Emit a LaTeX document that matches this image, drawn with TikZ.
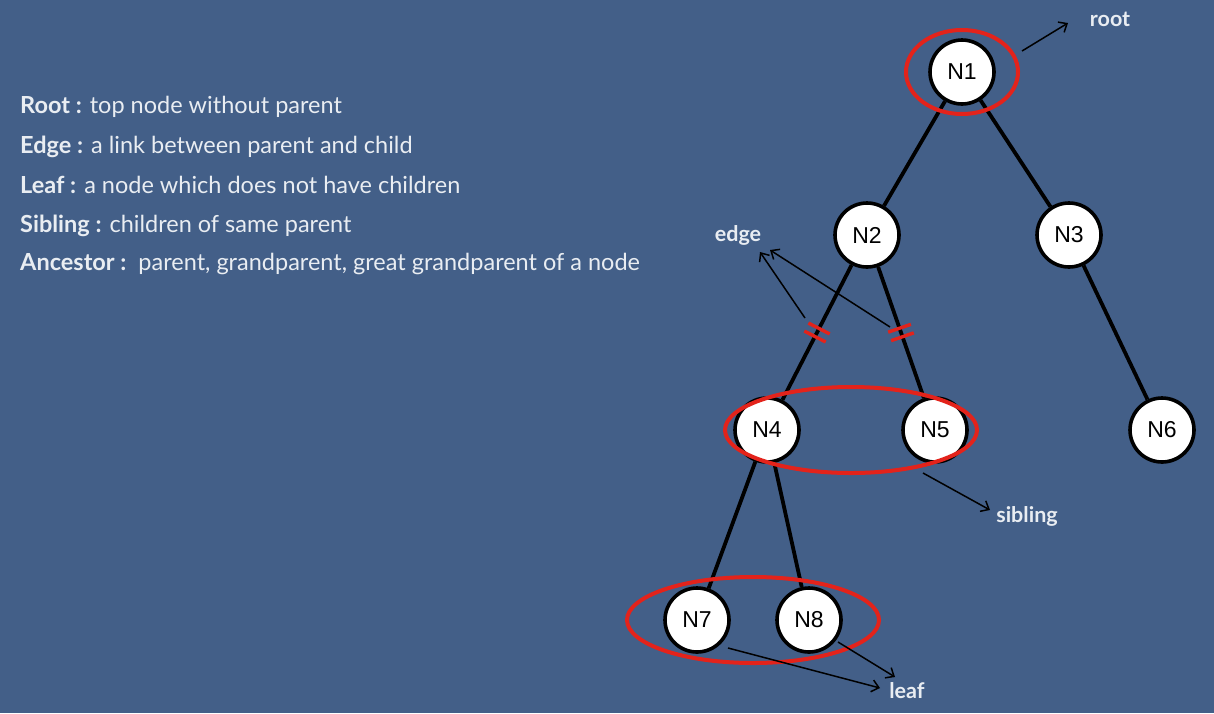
\documentclass[tikz,border=0pt]{standalone}
\usepackage{fontspec}
\setmainfont{Lato}
\newfontfamily\nodefont{Liberation Sans}
\usetikzlibrary{calc,arrows.meta}
\definecolor{slate}{HTML}{435F88}
\definecolor{marker}{HTML}{E3231B}
\definecolor{chalk}{HTML}{E9EDF2}

\begin{document}
\begin{tikzpicture}[x=1pt,y=-1pt,
        tree node/.style={circle, draw=black, fill=white, line width=3.6pt, minimum size=64pt, inner sep=0pt,
                          font=\nodefont\fontsize{23}{26}\selectfont},
        link/.style={line width=3.8pt},
        ring/.style={draw=marker, line width=4pt},
        tick/.style={draw=marker, line width=3.4pt},
        pointer/.style={-{Straight Barb[length=7pt,width=12pt]}, line width=1.5pt},
        tag/.style={text=chalk, font=\bfseries\fontsize{21.5}{24}\selectfont},
        def line/.style={anchor=base west, text=chalk, inner sep=0pt, font=\fontsize{23.5}{26}\selectfont}]
        \fill[slate](0,0)rectangle(1214,713);
        \useasboundingbox(0,0)rectangle(1214,713);

        % definitions
        \node[def line] (d1) at (20,113) {\textbf{Root :} top node without parent};
        \node[def line] (d2) at (20,153) {\textbf{Edge :} a link between parent and child};
        \node[def line] (d3) at (20,193) {\textbf{Leaf :} a node which does not have children};
        \node[def line] (d4) at (20,232) {\textbf{Sibling :} children of same parent};
        \node[def line] (d5) at (20,270) {\textbf{Ancestor :}\ \ parent, grandparent, great grandparent of a node};

        % tree
        \node[tree node] (n1) at (962, 72) {N1};
        \node[tree node] (n2) at (867,235) {N2};
        \node[tree node] (n3) at (1069,235) {N3};
        \node[tree node] (n4) at (767,430) {N4};
        \node[tree node] (n5) at (935,430) {N5};
        \node[tree node] (n6) at (1162,430) {N6};
        \node[tree node] (n7) at (697,620) {N7};
        \node[tree node] (n8) at (809,620) {N8};

        \draw[link](n1)--(n2);
        \draw[link](n1)--(n3);
        \draw[link](n2)--(n4);
        \draw[link](n2)--(n5);
        \draw[link](n3)--(n6);
        \draw[link](n4)--(n7);
        \draw[link](n4)--(n8);

        % cut marks on the two edges
        \coordinate (c4) at ($(n2)!.5!(n4)$);
        \coordinate (c5) at ($(n2)!.5!(n5)$);
        \begin{scope}[shift={(c4)},rotate=-117]
          \draw[tick](-4.5,-12)--(-4.5,12) (4.5,-12)--(4.5,12);
        \end{scope}
        \begin{scope}[shift={(c5)},rotate=-71]
          \draw[tick](-4.5,-12)--(-4.5,12) (4.5,-12)--(4.5,12);
        \end{scope}

        % marks
        \draw[ring](n1)ellipse[x radius=56,y radius=42];
        \draw[ring]($(n4)!.5!(n5)$)ellipse[x radius=126,y radius=43];
        \draw[ring]($(n7)!.5!(n8)$)ellipse[x radius=126,y radius=43];

        % labels
        \node[tag] (root)    at (1110, 19) {root};
        \node[tag] (edge)    at (738,235)  {edge};
        \node[tag] (sibling) at (1027,516) {sibling};
        \node[tag] (leaf)    at (907,691)  {leaf};

        \coordinate (root from)  at (1022,51);  \coordinate (root to)  at (1068,23);
        \coordinate (edge from1) at (805,318);  \coordinate (edge to1) at (760,252);
        \coordinate (edge from2) at (890,327);  \coordinate (edge to2) at (770,250);
        \coordinate (sib from)   at (923,473);  \coordinate (sib to)   at (990,510);
        \coordinate (leaf from1) at (728,648);  \coordinate (leaf to1) at (880,688);
        \coordinate (leaf from2) at (838,642);  \coordinate (leaf to2) at (895,677);

        \draw[pointer](root from)--(root to);
        \draw[pointer](edge from1)--(edge to1);
        \draw[pointer](edge from2)--(edge to2);
        \draw[pointer](sib from)--(sib to);
        \draw[pointer](leaf from1)--(leaf to1);
        \draw[pointer](leaf from2)--(leaf to2);
      \end{tikzpicture}
\end{document}
